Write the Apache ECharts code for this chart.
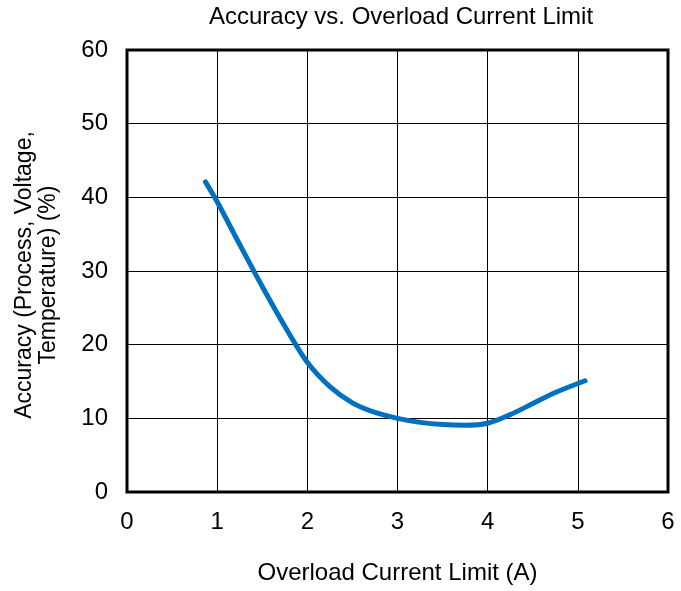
<!DOCTYPE html>
<html>
<head>
<meta charset="utf-8">
<script src="https://cdn.jsdelivr.net/npm/echarts@6/dist/echarts.min.js"></script>
<style>
  html, body { margin: 0; padding: 0; background: #fff; }
  #chart { width: 681px; height: 591px; }
</style>
</head>
<body>
<div id="chart"></div>
<script>
// curve
const currentA = [0.87, 1.0, 1.25, 1.5, 1.75, 2.0, 2.25, 2.5, 2.75, 3.0, 3.25, 3.5, 3.75, 4.0, 4.25, 4.5, 4.75, 5.08]
const accuracyPct = [42.1, 39.4, 33.6, 27.9, 22.5, 17.6, 14.3, 12.1, 10.8, 10.0, 9.45, 9.15, 9.05, 9.33, 10.5, 12.0, 13.5, 15.1]

const font = '"Liberation Sans", Arial, sans-serif'

const chart = echarts.init(document.getElementById('chart'))

chart.setOption({
  animation: false,
  title: {
    text: 'Accuracy vs. Overload Current Limit',
    left: 396,
    textAlign: 'center',
    top: 0,
    textStyle: { fontFamily: font, fontSize: 24, fontWeight: 'normal', color: '#000' }
  },
  grid: {
    left: 127,
    right: 13,
    top: 50,
    bottom: 99,
    outerBoundsMode: 'none',
    containLabel: false,
    show: true,
    borderColor: '#000',
    borderWidth: 3
  },
  xAxis: {
    type: 'value',
    min: 0,
    max: 6,
    interval: 1,
    name: 'Overload Current Limit (A)',
    nameLocation: 'middle',
    nameGap: 69,
    nameTextStyle: { fontFamily: font, fontSize: 24, color: '#000' },
    axisLine: { show: false },
    axisTick: { show: false },
    axisLabel: { fontFamily: font, fontSize: 24, color: '#000', margin: 18 },
    splitLine: { show: true, lineStyle: { color: '#000', width: 1 } }
  },
  yAxis: {
    type: 'value',
    min: 0,
    max: 60,
    interval: 10,
    name: 'Accuracy (Process, Voltage,\nTemperature) (%)',
    nameLocation: 'middle',
    nameGap: 66,
    nameTextStyle: { fontFamily: font, fontSize: 23, color: '#000', lineHeight: 24, padding: [0, 8, 0, 0] },
    axisLine: { show: false },
    axisTick: { show: false },
    axisLabel: { fontFamily: font, fontSize: 24, color: '#000', margin: 19 },
    splitLine: { show: true, lineStyle: { color: '#000', width: 1 } }
  },
  series: [{
    type: 'line',
    data: currentA.map((x, i) => [x, accuracyPct[i]]),
    smooth: 0.3,
    showSymbol: false,
    lineStyle: { color: '#0070C0', width: 5, cap: 'round' }
  }]
})
</script>
</body>
</html>
